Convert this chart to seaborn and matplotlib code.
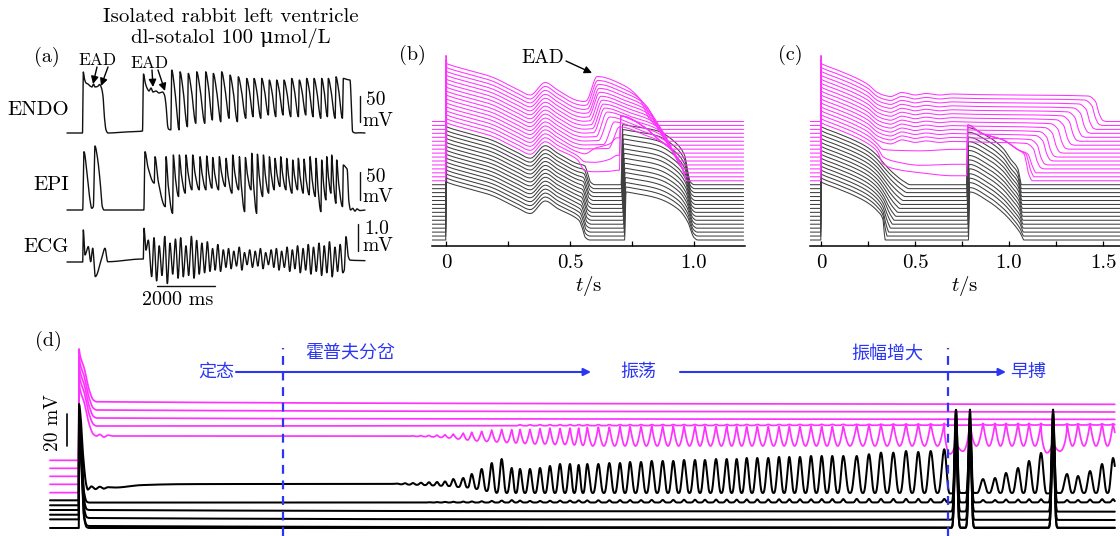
import numpy as np
import pandas as pd
import matplotlib
matplotlib.use("Agg")
import matplotlib.pyplot as plt
import seaborn as sns

sns.set_theme(style="white")
plt.rcParams["font.family"] = ["cmr10", "DejaVu Serif"]
plt.rcParams["mathtext.fontset"] = "cm"
plt.rcParams["axes.unicode_minus"] = False
plt.rcParams["axes.formatter.use_mathtext"] = True

W, H = 1120, 536
REST = -85.0
INK = "#111111"
GREY = "#3f3f3f"
MAGENTA = "#ff33ff"
BLUE = "#2b36f2"
CJK = ["Noto Sans CJK SC", "DejaVu Sans"]

# ---------------- (a) recordings: time in ms, ENDO / EPI in mV, ECG in mV ----------------
endo_t = [0, 534, 562, 603, 655, 724, 793, 862, 914, 965, 1052, 1121, 1190, 1241, 1293, 1345, 1414,
          2000, 2603, 2638, 2690, 2758, 2827, 2896, 2965, 3069, 3172, 3293, 3362, 3414, 3465, 3500, 3580]
endo_v = [-85, -85, 32.3, 18.8, 11.2, 9.2, 5.4, 3.5, 9.2, 3.5, 4.4, 8.3, 1.5, -13.9, -56.2, -79.2, -85,
          -83.1, -81.2, 28.5, 13.1, 1.5, -4.2, 1.5, -6.2, -4.2, -8.1, -6.2, -11.9, -31.2, -69.6, -77.3, -79]
endo_beat_t = [3610, 3896, 4182, 4472, 4783, 5044, 5334, 5620, 5907, 6196, 6448, 6713, 6975, 7230,
               7482, 7747, 8010, 8265, 8517, 8782, 9010, 9275, 9527]
endo_beat_peak = [36, 32.7, 29.6, 32.7, 32.7, 29.6, 32.7, 26.4, 23.1, 20, 20, 20, 16.8, 16.8, 16.8,
                  20, 16.8, 20, 20, 20, 20, 23.1, 20]
endo_beat_trough = [-79, -72.9, -66.4, -66.4, -60, -63.3, -56.8, -63.3, -56.8, -53.7, -56.8, -50.4,
                    -53.7, -50.4, -53.7, -53.7, -50.4, -53.7, -56.8, -53.7, -56.8, -56.8]
endo_tail_t = [9650, 9758, 9850, 9950, 10100, 10276]
endo_tail_v = [18, 16.9, -82.5, -85, -84.5, -85]

epi_t = [0, 541, 586, 679, 793, 852, 907, 965, 1045, 1138, 1218, 1276, 2632, 2650]
epi_v = [-85, -85, 19.1, -13.6, -67.1, -82, -79.1, 29.3, 10.2, -31.4, -79.1, -85, -85, -85]
epi_beat_t = [2689, 3034, 3414, 3666, 3873, 4103, 4334, 4586, 4817, 5024, 5252, 5483, 5714, 5945,
              6151, 6371, 6565, 6772, 6979, 7172, 7369, 7576, 7783, 7976, 8172, 8379, 8586, 8782,
              8955, 9127, 9299, 9527]
epi_beat_peak = [19.1, 10.2, 10.2, 13.2, 13.2, 13.2, 13.2, 10.2, 11.5, 8.8, 10.2, 7.3, 13.2, 10.2,
                 8.8, 16.3, 14.7, 13.2, 10.2, 7.3, 10.2, 7.3, 4.3, 7.3, 5.8, 10.2, 7.3, 4.3, 10.2,
                 13.2, 4.3, -4.6]
epi_beat_trough = [-37, -79, -91, -61, -55, -49, -49, -49, -46, -49, -43, -55, -49, -88, -49, -91,
                   -61, -55, -49, -43, -49, -55, -49, -55, -58, -61, -88, -67, -55, -73, -79]
epi_tail_t = [9600, 9660, 9720, 9780, 9850, 9930, 10000, 10100, 10276]
epi_tail_v = [-8, -12, -70, -85, -82, -87, -83, -86, -85]

ecg_t = [0, 541, 562, 621, 734, 817, 886, 976, 1196, 1310, 1403, 2575, 2631, 2655, 2724, 2803, 2920]
ecg_v = [0, 0, 1.19, 0.26, 0.57, 0.01, 0.51, -0.54, 0.14, 0.51, 0.01, 0.11, 0.11, 1.25, 0.44, 0.81, -0.54]
ecg_cyc_t = [3000, 3180, 3370, 3550, 3740, 3920, 4100, 4290, 4470, 4650, 4840, 5020, 5200, 5390,
             5570, 5750, 5940, 6120, 6300, 6490, 6670, 6850, 7040, 7220, 7400, 7590, 7770, 7950,
             8140, 8320, 8500, 8690, 8870, 9050, 9240, 9420]
ecg_peak = [0.9, 0.6, 0.95, 0.7, 0.85, 0.9, 0.6, 0.95, 0.8, 0.7, 0.75, 0.5, 0.65, 0.45, 0.5, 0.4,
            0.55, 0.35, 0.45, 0.4, 0.5, 0.35, 0.45, 0.5, 0.4, 0.55, 0.45, 0.6, 0.5, 0.65, 0.55, 0.7,
            0.6, 0.75, 0.55, 0.65]
ecg_trough = [-0.7, -0.5, -0.8, -0.45, -0.6, -0.55, -0.5, -0.6, -0.45, -0.4, -0.35, -0.3, -0.35,
              -0.2, -0.25, -0.15, -0.3, -0.1, -0.2, -0.15, -0.25, -0.1, -0.2, -0.3, -0.2, -0.35,
              -0.25, -0.4, -0.3, -0.45, -0.35, -0.5, -0.4, -0.55, -0.35, -0.4]
ecg_tail_t = [9560, 9620, 9700, 9760, 10276]
ecg_tail_v = [-0.3, 0.94, 0.2, 0.07, 0.05]

# ---------------- (b) simulated action potentials, t in s, V in mV ----------------
b_first_t = [0.0, 0.003, 0.012, 0.08, 0.18, 0.285, 0.34, 0.40, 0.45, 0.53]
b_first_v = [47, 31, 29, 19, 5, -20, -32, -7, -22, -43]
b_repol_dt = [-0.012, 0.0, 0.012, 0.03]
b_repol_v = [-47, -62, -80, -85]
b_blk_rep1 = [0.550, 0.551, 0.553, 0.554, 0.556, 0.557, 0.559, 0.560, 0.562, 0.563, 0.565, 0.566,
              0.568, 0.569, 0.571]
b_blk_stim = [0.722, 0.721, 0.720, 0.719, 0.718, 0.717, 0.716, 0.715, 0.714, 0.713, 0.712, 0.711,
              0.710, 0.709, 0.708]
b_blk_amp = [11, 13, 14, 16, 18, 19, 21, 23, 25, 26, 28, 30, 31, 33, 35]
b_blk_end = [1.000, 0.999, 0.998, 0.997, 0.996, 0.995, 0.994, 0.993, 0.992, 0.991, 0.990, 0.989,
             0.988, 0.987, 0.986]
b_cap_dip_t = [0.56, 0.60, 0.66, 0.69]
b_cap_dip_v = [[-65, -67, -66, -64], [-55, -56, -50, -42], [-47, -36, -27, -15]]
b_cap_stim = [0.699, 0.699, 0.700]
b_cap_end = [0.970, 0.965, 0.960]
b_bundle_t = [0.705, 0.80, 0.85, 0.92, 0.955]
b_bundle_level = [163, 141, 119, 89, 55]
b_ead_t = [0.70, 0.68, 0.66, 0.65, 0.64, 0.635, 0.63, 0.625, 0.62, 0.618, 0.615, 0.612, 0.61]
b_ead_v = [-1, 1, 3, 5, 5, 5, 5, 5, 5, 5, 5, 5, 5]
b_ead_end = [0.95, 0.94, 0.93, 0.92, 0.91, 0.90, 0.89, 0.88, 0.87, 0.86, 0.85, 0.835, 0.82]

# ---------------- (c) ----------------
c_first_t = [0.0, 0.003, 0.012, 0.08, 0.17, 0.25, 0.30]
c_first_v = [47, 31, 29, 19, 5, -11, -27]
c_repol_v = [-45, -62, -78, -85]
c_blk_rep1 = [0.330, 0.331, 0.331, 0.332, 0.333, 0.334, 0.334, 0.335, 0.336, 0.337, 0.337, 0.338,
              0.339, 0.340, 0.340]
c_blk_tail = [0.004, 0.007, 0.010, 0.013, 0.016, 0.019, 0.022, 0.025, 0.028, 0.031, 0.034, 0.037,
              0.040, 0.043, 0.045]
c_blk_stim = [0.786, 0.785, 0.785, 0.784, 0.783, 0.783, 0.782, 0.781, 0.780, 0.780, 0.779, 0.778,
              0.778, 0.777, 0.776]
c_blk_amp = [11, 12, 14, 15, 16, 18, 19, 20, 21, 23, 24, 25, 26, 28, 29]
c_blk_end = [1.080, 1.079, 1.078, 1.077, 1.076, 1.075, 1.074, 1.073, 1.072, 1.071, 1.070, 1.069,
             1.068, 1.067, 1.067]
c_cap_dip_t = [0.33, 0.40, 0.53, 0.70]
c_cap_dip_v = [[-51, -62, -69, -75], [-45, -55, -62, -60], [-38, -40, -41, -38]]
c_cap_stim = 0.775
c_bundle_t = [0.781, 0.85, 0.97, 1.05]
c_bundle_level = [145, 129, 115, 95]
c_plat_t = [0.34, 0.37, 0.43, 0.50, 0.56, 0.63, 0.70, 0.80]
c_plat_v = [-33, -35, -27, -32, -29, -32, -30, -31]
c_mag_end = [1.10, 1.11, 1.12, 1.15, 1.17, 1.20, 1.22, 1.25, 1.28, 1.31, 1.34, 1.37, 1.40, 1.43,
             1.46, 1.48]

# ---------------- (d) long simulation, t in s, V in mV ----------------
d_mag_rest = [42.3, 37.3, 32.3, 27.3, 22.1]
d_mag_peak0 = [111.9, 106.75, 101.75, 96.75, 90.5]
d_mag_plat = [78.9, 73.75, 68.75, 63.75, 57.5]
d_mag_plat_end = [77.3, 72.5, 67.9, 64.4, 57.5]
d_m0_ring_t = [0.20, 0.24, 0.28, 0.33, 3.0]
d_m0_ring_v = [58.5, 56.8, 58.0, 57.5, 57.5]

d_blk_rest = [17.3, 14.2, 11.25, 8.3, 5.4, 0.0]
d_blk_peak0 = [77.5, 74, 71, 68, 65, 60]
d_blk_plat = [27.5, 15.9, 11.25, 6.25, 1.25, 0.0]
d_blk_plat_end = [27.5, 16.0, 10.2, 5.0, 0.2, 0.0]
d_b5_ring_t = [0.015, 0.04, 0.07, 0.085, 0.12, 0.16, 0.2, 0.24, 0.28, 0.35, 0.6, 1.0, 1.5, 3.0]
d_b5_ring_v = [70, 45, 27, 24, 26, 24.3, 25.8, 24.6, 25.5, 25.3, 26.8, 27.4, 27.5, 27.5]

d_beat_t_pre = [3.069, 3.147, 3.224, 3.301, 3.378, 3.456, 3.533, 3.613, 3.709, 3.791, 3.887, 3.984,
                4.080, 4.177, 4.257, 4.353, 4.450, 4.546, 4.643, 4.739, 4.823, 4.906, 5.013, 5.119,
                5.222, 5.319, 5.425, 5.528, 5.634, 5.736, 5.840, 5.946, 6.042, 6.149, 6.252, 6.348,
                6.445, 6.547, 6.653, 6.757, 6.856, 6.959, 7.066, 7.169, 7.271, 7.377, 7.507, 7.625,
                7.741, 7.860, 7.983, 8.101, 8.221, 8.352]
d_beat_t_post = [8.465, 8.600, 8.726, 8.842, 8.948, 9.064, 9.170, 9.286, 9.402, 9.537, 9.643,
                 9.759, 9.875, 9.981, 10.11]
d_b5_peak_pre = [27.8, 28.0, 28.1, 28.3, 28.6, 28.75, 29.1,
                 30.6, 31.25, 33.75, 36.9, 40.6, 43.1, 37.5, 36.9, 36.9, 37.5, 38.75, 40, 40, 39.4,
                 40, 40, 40.6, 40.6, 41.25, 41.25, 41.9, 41.9, 41.9, 42.5, 42.5, 42.5, 43.1, 43.1,
                 43.1, 43.75, 43.75, 43.75, 44.4, 44.4, 44.4, 45, 45, 45, 45,
                 45, 46.1, 47.1, 47.1, 48.1, 47.5, 48.1, 49.2]
d_b5_peak_post = [73.75, 64.4, 30.6, 31.25, 34.4, 37.5, 41.9, 46.9, 71.9, 33.75, 32.5, 35.6, 40,
                  43.75, 21.9]
d_b5_trough_pre = [27.3, 27.1, 27.0, 26.8, 26.6, 26.4, 26.2, 25.6, 25.3, 24.4, 23.1, 22.0] + [21.9] * 41
d_b5_trough_post = [21.6, 21.9, 21.9, 21.9, 21.9, 21.9, 21.9, 21.9, 21.6, 21.9, 21.9, 21.9, 21.9,
                    21.9, 21.9]
d_m0_peak_pre = [57.5, 57.5, 57.6, 57.75, 57.9, 58.1, 58.4, 58.75, 59.4, 60, 60.6, 61.25, 61.6,
                 61.7, 61.9, 61.9, 62.2, 62.5, 62.5, 62.8, 62.8, 63.1, 63.4, 63.4, 63.4] + \
                [63.75] * 21 + [64.4, 64.7, 65, 65, 65.3, 65.3, 65.4, 65.4]
d_m0_peak_post = [53, 72, 65.4, 65.4, 65.4, 65.4, 65.4, 65.4, 53, 65.4, 65.4, 65.4, 65.4, 65.4, 51.25]
d_m0_trough_pre = [57.5, 57.4, 57.25, 57.1, 56.9, 56.6, 56.25, 55.6, 55, 54.4, 54.1, 53.75, 53.4,
                   53.1, 52.8, 52.5, 52.5, 52.2, 52.2, 51.9, 51.6] + [51.25] * 32
d_m0_trough_post = [46.25, 48, 51.25, 51.25, 51.25, 51.25, 51.25, 51.25, 47, 48, 51.25, 51.25,
                    51.25, 51.25, 51.25]
d_b4_bump_pre = [0, 0, 0, 0, 0.2, 0.3, 0.4, 0.5, 0.6, 0.7, 0.8, 1.0, 1.2, 1.5, 1.2, 1.0, 1.0, 1.1,
                 1.2, 1.2, 1.3, 1.3, 1.4, 1.4, 1.5, 1.5, 1.5] + [1.6] * 3 + [1.7] * 3 + [1.8] * 3 + \
                [1.9] * 3 + [2.0] * 4 + [2.1] * 3 + [2.2] * 8
d_b4_bump_post = [58, 58, 1.5, 1.5, 1.8, 1.8, 2.0, 2.0, 58, 1.5, 1.5, 1.8, 2.0, 2.0, 0]
d_m1_bump_pre = [0] * 14 + [0.6] * 40
d_m1_bump_post = [0, 0, 0.6, 0.6, 0.6, 0.6, 0.6, 0.6, 0, 0.6, 0.6, 0.6, 0.6, 0.6, 0]
d_low_spike_post = [58, 58, 0, 0, 0, 0, 0, 0, 58, 0, 0, 0, 0, 0, 0]
d_dash_t = [1.969, 8.388]


# ---------------- helpers ----------------
def clean(kt, kv):
    ot, ov = [], []
    for a, b in zip(kt, kv):
        if not ot or a > ot[-1] + 1e-9:
            ot.append(a)
            ov.append(b)
    return np.array(ot, float), np.array(ov, float)


def pchip(xk, yk, x):
    x = np.clip(np.asarray(x, float), xk[0], xk[-1])
    h = np.diff(xk)
    d = np.diff(yk) / h
    m = np.zeros_like(yk)
    m[0], m[-1] = d[0], d[-1]
    for i in range(1, len(xk) - 1):
        if d[i - 1] * d[i] > 0:
            w1, w2 = 2 * h[i] + h[i - 1], h[i] + 2 * h[i - 1]
            m[i] = (w1 + w2) / (w1 / d[i - 1] + w2 / d[i])
    i = np.clip(np.searchsorted(xk, x, side="right") - 1, 0, len(xk) - 2)
    s = (x - xk[i]) / h[i]
    return ((2 * s**3 - 3 * s**2 + 1) * yk[i] + (s**3 - 2 * s**2 + s) * h[i] * m[i]
            + (-2 * s**3 + 3 * s**2) * yk[i + 1] + (s**3 - s**2) * h[i] * m[i + 1])


def curve(kt, kv, grid):
    xk, yk = clean(kt, kv)
    return pchip(xk, yk, grid)


def beat_anchors(times, peaks, troughs, rise, shoulder, sag):
    kt, kv = [], []
    for i, (tp, pk) in enumerate(zip(times, peaks)):
        kt.append(tp)
        kv.append(pk)
        if i < len(troughs):
            tn, tr = times[i + 1], troughs[i]
            kt += [tp + shoulder * (tn - tp), tn - rise]
            kv += [pk - sag * (pk - tr), tr]
    return kt, kv


def beat_wave(grid, times, peaks, troughs, style):
    out = np.full(grid.shape, np.nan)
    for i in range(len(times) - 1):
        t0, t1 = times[i], times[i + 1]
        m = (grid >= t0) & (grid < t1)
        phi = (grid[m] - t0) / (t1 - t0)
        tr = troughs[i]
        p = np.where(phi < 0.5, peaks[i], peaks[i + 1])
        if style == "round":
            n = np.where(p - tr > 30, 6.0, 1.5)
            w = (np.cos(np.pi * phi) ** 2) ** n
        else:
            n = np.where(p - tr > 15, 0.5, 1.0)
            w = 1 - np.sin(np.pi * phi) ** n
        out[m] = tr + (p - tr) * w
    return out


def bumps(grid, times, heights):
    out = np.zeros_like(grid)
    for tc, hgt in zip(times, heights):
        if hgt == 0:
            continue
        w, n = (0.06, 8) if hgt > 30 else (0.05, 6)
        m = np.abs(grid - tc) < w
        out[m] += hgt * np.cos(np.pi * (grid[m] - tc) / (2 * w)) ** n
    return out


def draw(ax, traces, color, lw, z=2):
    df = pd.concat([pd.DataFrame({"t": t, "v": v, "trace": name}) for name, t, v in traces],
                   ignore_index=True)
    sns.lineplot(data=df, x="t", y="v", units="trace", estimator=None, sort=False,
                 color=color, lw=lw, ax=ax, legend=False, zorder=z)
    ax.set_xlabel("")
    ax.set_ylabel("")


fig = plt.figure(figsize=(W / 100, H / 100), dpi=100)
fig.patch.set_facecolor("white")


def px_axes(box, xref, xval, xs, yref, yval, ys):
    x0, y0, x1, y1 = box
    ax = fig.add_axes([x0 / W, 1 - y1 / H, (x1 - x0) / W, (y1 - y0) / H])
    ax.patch.set_alpha(0)
    lim = ((xval + (x0 - xref) * xs, xval + (x1 - xref) * xs),
           (yval - (y1 - yref) * ys, yval - (y0 - yref) * ys))
    return ax, lim


def apply(ax, lim):
    ax.set_xlim(*lim[0])
    ax.set_ylim(*lim[1])


# ---------------- panel (a) ----------------
MS_PX = 2000 / 58
a_grid = np.arange(0, 10276, 3.0)

kt, kv = beat_anchors(endo_beat_t, endo_beat_peak, endo_beat_trough, 30, 0.35, 0.3)
endo = curve(endo_t + kt + endo_tail_t, endo_v + kv + endo_tail_v, a_grid)
kt, kv = beat_anchors(epi_beat_t, epi_beat_peak, epi_beat_trough, 25, 0.3, 0.5)
epi = curve(epi_t + kt + epi_tail_t, epi_v + kv + epi_tail_v, a_grid)
kt, kv = [], []
for i, (tp, pk, tr) in enumerate(zip(ecg_cyc_t, ecg_peak, ecg_trough)):
    half = (ecg_cyc_t[i + 1] - tp) / 2 if i + 1 < len(ecg_cyc_t) else 90
    kt += [tp, tp + half]
    kv += [pk, tr]
ecg = curve(ecg_t + kt + ecg_tail_t, ecg_v + kv + ecg_tail_v, a_grid)

ax_endo, lim_endo = px_axes((60, 55, 390, 142), 67, 0, MS_PX, 133, REST, 50 / 26)
ax_epi, lim_epi = px_axes((60, 140, 390, 222), 67, 0, MS_PX, 210, REST, 50 / 28)
ax_ecg, lim_ecg = px_axes((60, 222, 390, 300), 67, 0, MS_PX, 262, 0.0, 1 / 27)
for ax, lim, sig in [(ax_endo, lim_endo, endo), (ax_epi, lim_epi, epi), (ax_ecg, lim_ecg, ecg)]:
    draw(ax, [("rec", a_grid, sig)], INK, 1.0)
    apply(ax, lim)
    ax.axis("off")
ax_endo.plot([10103, 10103], [-63.8, -13.8], color=INK, lw=1.0, clip_on=False)
ax_epi.plot([10103, 10103], [-67.1, -17.1], color=INK, lw=1.0, clip_on=False)
ax_ecg.plot([10034, 10034], [0.41, 1.41], color=INK, lw=1.0, clip_on=False)
ax_ecg.plot([3103, 5103], [-0.89, -0.89], color=INK, lw=1.0, clip_on=False)

# ---------------- panel (b) ----------------
OFFSET = 7.9
b_grid = np.arange(-0.06, 1.2005, 0.001)
b_black, b_mag = [], []
for k in range(15):
    r1, ts, a2, r2 = b_blk_rep1[k], b_blk_stim[k], b_blk_amp[k], b_blk_end[k]
    kt = [-0.06, -0.001] + b_first_t + [r1 + d for d in b_repol_dt] + \
         [ts - 0.002, ts + 0.004, ts + 0.03, 0.85, r2 - 0.06, r2 - 0.025, r2, r2 + 0.015, 1.2]
    kv = [REST, REST] + b_first_v + b_repol_v + \
         [REST, a2, a2 - 2, a2 - 12, a2 - 36, a2 - 60, -80, REST, REST]
    b_black.append((f"k{k}", b_grid, curve(kt, kv, b_grid) + k * OFFSET))
for j in range(16):
    k = 15 + j
    off = k * OFFSET
    if j < 3:
        kt = [-0.06, -0.001] + b_first_t + b_cap_dip_t + [b_cap_stim[j]] + b_bundle_t + \
             [b_cap_end[j], 1.2]
        kv = [REST, REST] + b_first_v + b_cap_dip_v[j] + [b_cap_dip_v[j][-1]] + \
             [lv - off for lv in b_bundle_level] + [REST, REST]
    else:
        tp, pv, end = b_ead_t[j - 3], b_ead_v[j - 3], b_ead_end[j - 3]
        kt = [-0.06, -0.001] + b_first_t + \
             [0.555, tp - 0.045, tp, tp + 0.1, end - 0.04, end - 0.015, end, end + 0.012, 1.2]
        kv = [REST, REST] + b_first_v + \
             [-45, -44, pv, pv - 16, pv - 44, pv - 70, -80, REST, REST]
    b_mag.append((f"m{j}", b_grid, curve(kt, kv, b_grid) + off))

ax_b, lim_b = px_axes((432, 50, 745, 246), 446, 0.0, 0.5 / 124, 240, REST, 2.0)
draw(ax_b, b_black, GREY, 0.75)
draw(ax_b, b_mag, MAGENTA, 0.75)
apply(ax_b, lim_b)

# ---------------- panel (c) ----------------
c_grid = np.arange(-0.06, 1.6005, 0.001)
c_black, c_mag = [], []
for k in range(15):
    r1, a = c_blk_rep1[k], c_blk_tail[k]
    ts, a2, r2 = c_blk_stim[k], c_blk_amp[k], c_blk_end[k]
    kt = [-0.06, -0.001] + c_first_t + [r1, r1 + a, r1 + 2.2 * a, r1 + 3 * a] + \
         [ts - 0.002, ts + 0.005, 0.88, 0.97, r2 - 0.06, r2 - 0.02, r2, 1.6]
    kv = [REST, REST] + c_first_v + c_repol_v + \
         [REST, a2, a2 - 16, a2 - 42, a2 - 62, a2 - 82, REST, REST]
    c_black.append((f"k{k}", c_grid, curve(kt, kv, c_grid) + k * OFFSET))
for j in range(16):
    k = 15 + j
    off = k * OFFSET
    end = c_mag_end[j]
    if j < 3:
        kt = [-0.06, -0.001] + c_first_t + c_cap_dip_t + [c_cap_stim] + c_bundle_t + \
             [end - 0.02, end + 0.005, end + 0.025, 1.6]
        kv = [REST, REST] + c_first_v + c_cap_dip_v[j] + [c_cap_dip_v[j][-1]] + \
             [lv - off for lv in c_bundle_level] + [c_bundle_level[-1] - off - 8, -72, REST, REST]
    else:
        kt = [-0.06, -0.001] + c_first_t + c_plat_t + \
             [end - 0.06, end - 0.02, end, end + 0.02, end + 0.04, 1.6]
        kv = [REST, REST] + c_first_v + c_plat_v + [-34, -45, -70, -83, REST, REST]
    c_mag.append((f"m{j}", c_grid, curve(kt, kv, c_grid) + off))

ax_c, lim_c = px_axes((810, 50, 1120, 246), 821, 0.0, 0.5 / 94, 240, REST, 2.0)
draw(ax_c, c_black, GREY, 0.75)
draw(ax_c, c_mag, MAGENTA, 0.75)
apply(ax_c, lim_c)

for ax, majors, minors, labels in [(ax_b, [0, 0.5, 1.0], [0.25, 0.75], ["0", "0.5", "1.0"]),
                                   (ax_c, [0, 0.5, 1.0, 1.5], [0.25, 0.75, 1.25],
                                    ["0", "0.5", "1.0", "1.5"])]:
    for s in ["left", "right", "top"]:
        ax.spines[s].set_visible(False)
    ax.spines["bottom"].set_color("black")
    ax.spines["bottom"].set_linewidth(1.1)
    ax.set_xticks(majors)
    ax.set_xticklabels(labels)
    ax.set_xticks(minors, minor=True)
    ax.tick_params(axis="x", which="both", direction="in", length=3.5, width=0.9,
                   colors="black", labelsize=15, pad=6, bottom=True)
    ax.tick_params(axis="y", left=False, labelleft=False)
    ax.set_xlabel("$t$/s", fontsize=15, color="black", labelpad=1)

# ---------------- panel (d) ----------------
D_PX = 103.6
d_grid = np.arange(-0.28, 10.0, 0.002)
d_beat_t = d_beat_t_pre + d_beat_t_post

d_mag = []
for i in range(5):
    rest, pk, plat, plat_end = d_mag_rest[i], d_mag_peak0[i], d_mag_plat[i], d_mag_plat_end[i]
    kt = [-0.28, -0.003, 0.0, 0.01, 0.05, 0.10, 0.14, 0.17]
    kv = [rest, rest, pk, pk - 4, pk - 12, pk - 26, plat + 1, plat]
    if i == 4:
        kt += d_m0_ring_t + [d_beat_t[0]]
        kv += d_m0_ring_v + [d_m0_peak_pre[0]]
        pre = curve(kt, kv, d_grid)
        wave = beat_wave(d_grid, d_beat_t, d_m0_peak_pre + d_m0_peak_post,
                         d_m0_trough_pre + d_m0_trough_post, "cusp")
        v = np.where(d_grid < d_beat_t[0], pre, wave)
    else:
        v = curve(kt + [10.0], kv + [plat_end], d_grid)
        if i == 3:
            v = v + bumps(d_grid, d_beat_t, d_m1_bump_pre + d_m1_bump_post)
    d_mag.append((f"m{i}", d_grid, v))

d_blk = []
for i in range(6):
    rest, pk, plat, plat_end = d_blk_rest[i], d_blk_peak0[i], d_blk_plat[i], d_blk_plat_end[i]
    if i == 0:
        kt = [-0.28, -0.002, 0.0] + d_b5_ring_t + [d_beat_t[0]]
        kv = [rest, rest, pk] + d_b5_ring_v + [d_b5_peak_pre[0]]
        pre = curve(kt, kv, d_grid)
        wave = beat_wave(d_grid, d_beat_t, d_b5_peak_pre + d_b5_peak_post,
                         d_b5_trough_pre + d_b5_trough_post, "round")
        v = np.where(d_grid < d_beat_t[0], pre, wave)
    else:
        kt = [-0.28, -0.002, 0.0, 0.015, 0.05, 0.075, 0.1, 10.0]
        kv = [rest, rest, pk, pk - 12, plat + 6, plat + 0.5, plat, plat_end]
        v = curve(kt, kv, d_grid)
        if i == 1:
            v = v + bumps(d_grid, d_beat_t, d_b4_bump_pre + d_b4_bump_post)
        else:
            v = v + bumps(d_grid, d_beat_t, [0] * len(d_beat_t_pre) + d_low_spike_post)
    d_blk.append((f"b{i}", d_grid, v))

ax_d, lim_d = px_axes((40, 338, 1120, 536), 79, 0.0, 1 / D_PX, 528, 0.0, 1 / 1.6)
draw(ax_d, d_mag, MAGENTA, 1.25)
draw(ax_d, d_blk, "black", 1.45, z=3)
apply(ax_d, lim_d)
ax_d.axis("off")
for tx in d_dash_t:
    ax_d.axvline(tx, ymin=0, ymax=0.95, color=BLUE, lw=1.6, ls=(0, (4, 3)), zorder=5)
ax_d.plot([-0.116, -0.116], [51.25, 71.25], color="black", lw=1.2)

# ---------------- text and arrows ----------------
ov = fig.add_axes([0, 0, 1, 1], zorder=10)
ov.set_xlim(0, W)
ov.set_ylim(H, 0)
ov.axis("off")
ov.patch.set_alpha(0)


def txt(x, y, s, size=15, ha="center", **kw):
    ov.text(x, y, s, fontsize=size, ha=ha, va="center", color=kw.pop("color", "black"), **kw)


txt(231, 17, "Isolated rabbit left ventricle")
txt(231, 38, "dl-sotalol 100 μmol/L")
txt(47, 57, "(a)", 14.5)
txt(412, 55, "(b)", 14.5)
txt(790, 55, "(c)", 14.5)
txt(48, 341, "(d)", 14.5)
txt(69, 110, "ENDO", ha="right")
txt(69, 185, "EPI", ha="right")
txt(69, 247, "ECG", ha="right")
txt(97, 60, "EAD", 12.5)
txt(149, 63, "EAD", 12.5)
for sx, sy, s in [(366, 100, "50"), (362, 121, "mV"), (366, 177, "50"), (362, 197, "mV"),
                  (364, 229, "1.0"), (362, 246, "mV")]:
    txt(sx, sy, s, 14, ha="left")
txt(178, 300, "2000 ms", 14.5)
txt(543, 58, "EAD", 14)
txt(53, 423, "20 mV", 14, rotation=90)

arrow_k = dict(arrowstyle="-|>", color="black", lw=1.0, mutation_scale=11, shrinkA=0, shrinkB=0)
for (x0, y0), (x1, y1) in [((97, 67), (93, 84)), ((108, 67), (101, 86)),
                           ((152, 70), (153, 87)), ((158, 70), (165, 91)),
                           ((566, 61), (592, 73))]:
    ov.annotate("", xy=(x1, y1), xytext=(x0, y0), arrowprops=arrow_k)

arrow_b = dict(arrowstyle="-|>", color=BLUE, lw=1.5, mutation_scale=11, shrinkA=0, shrinkB=0)
ov.annotate("", xy=(591, 372), xytext=(236, 372), arrowprops=arrow_b)
ov.annotate("", xy=(1006, 372), xytext=(680, 372), arrowprops=arrow_b)
for x, y, s in [(216, 372, "定态"), (350, 353, "霍普夫分岔"), (638, 372, "振荡"),
                (887, 354, "振幅增大"), (1028, 372, "早搏")]:
    txt(x, y, s, 13, color=BLUE, family=CJK)

fig.savefig("out.png", dpi=100, facecolor="white")
